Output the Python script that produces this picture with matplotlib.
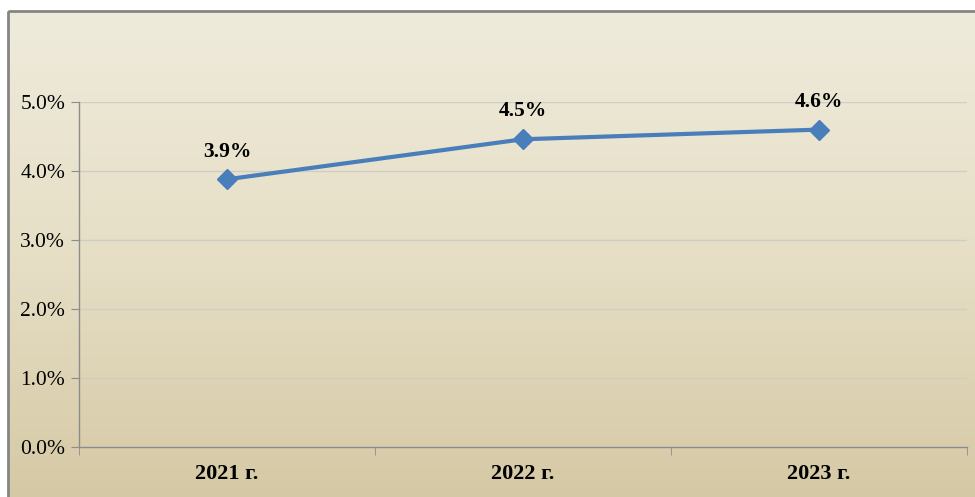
import numpy as np
import matplotlib.pyplot as plt
from matplotlib.colors import LinearSegmentedColormap
import matplotlib.patches as patches

years = ['2021 г.', '2022 г.', '2023 г.']
values = [3.88, 4.46, 4.60]
labels = ['3.9%', '4.5%', '4.6%']
yticks = [0, 1, 2, 3, 4, 5]

W, H = 975, 497
fig = plt.figure(figsize=(W / 100, H / 100), dpi=100)

# background: white page, framed panel with vertical cream->tan gradient
bg = fig.add_axes([0, 0, 1, 1])
bg.set_xlim(0, W)
bg.set_ylim(H, 0)
bg.axis('off')
grad_cmap = LinearSegmentedColormap.from_list('panel', ['#efebdc', '#e6dfc6', '#d5c8a4'])
grad = np.linspace(0, 1, 256).reshape(-1, 1)
bg.imshow(grad, cmap=grad_cmap, extent=[8, W + 5, H + 5, 11], aspect='auto', zorder=0)
bg.add_patch(patches.Rectangle((8, 11), W, H, fill=False, edgecolor='#858585', linewidth=2, zorder=1))

# plot area
x0, x1, ytop, ybot = 79, 967, 102, 447
ax = fig.add_axes([x0 / W, 1 - ybot / H, (x1 - x0) / W, (ybot - ytop) / H])
ax.patch.set_alpha(0)

x = np.arange(len(years))
ax.plot(x, values, color='#4a7ebb', linewidth=3, marker='D', markersize=10,
        markerfacecolor='#4a7ebb', markeredgecolor='#4a7ebb', zorder=5)
for xi, v, lab in zip(x, values, labels):
    ax.annotate(lab, (xi, v), xytext=(0, 20), textcoords='offset points', ha='center',
                va='center', fontsize=15.5, fontweight='bold', family='Liberation Serif')

ax.set_xlim(-0.5, len(years) - 0.5)
ax.set_ylim(0, 5)
ax.set_yticks(yticks)
ax.set_yticklabels([f'{t:.1f}%' for t in yticks], fontsize=15.5, family='Liberation Serif')
ax.set_xticks(x)
ax.set_xticklabels(years, fontsize=16, fontweight='bold', family='Liberation Serif')
ax.set_xticks(np.arange(len(years) + 1) - 0.5, minor=True)
ax.tick_params(axis='x', which='major', length=0, pad=12)
ax.tick_params(axis='x', which='minor', length=6, color='#8c8c8c', direction='out')
ax.tick_params(axis='y', length=6, color='#8c8c8c', pad=4)
ax.grid(axis='y', color='#cfcdc4', linewidth=1)
ax.set_axisbelow(True)
for side in ['top', 'right']:
    ax.spines[side].set_visible(False)
for side in ['left', 'bottom']:
    ax.spines[side].set_color('#8c8c8c')
    ax.spines[side].set_linewidth(1)

fig.savefig('out.png', dpi=100)
